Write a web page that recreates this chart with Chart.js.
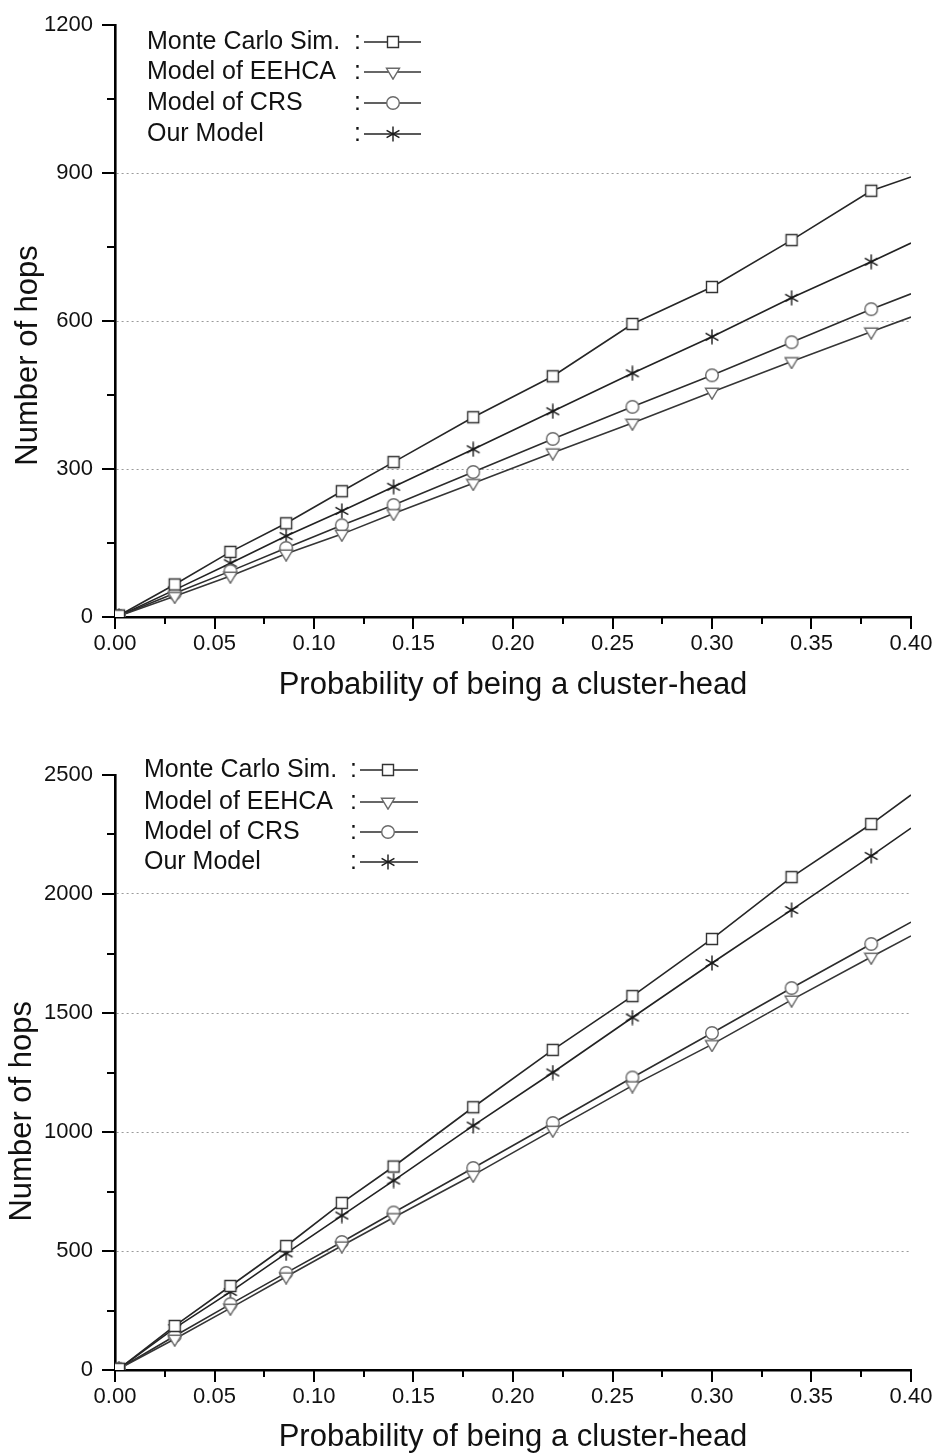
<!DOCTYPE html>
<html><head><meta charset="utf-8">
<script src="https://cdn.jsdelivr.net/npm/chart.js@4/dist/chart.umd.min.js"></script>
<style>
html,body{margin:0;padding:0;background:#fff;}
canvas{display:block;position:absolute;left:0;}
#c1{top:0;}
#c2{top:728px;}
</style></head><body>
<canvas id="c1" width="937" height="728"></canvas>
<canvas id="c2" width="937" height="728"></canvas>
<script>
// ---------- data ----------
const probabilities = [0.002, 0.03, 0.058, 0.086, 0.114, 0.14, 0.18, 0.22, 0.26, 0.30, 0.34, 0.38, 0.40];
const seriesNames = ['Monte Carlo Sim.', 'Model of EEHCA', 'Model of CRS', 'Our Model'];

const hopsTopMonteCarlo = [3, 66, 132, 190, 255, 314, 405, 488, 594, 669, 764, 864, 892];
const hopsTopEEHCA      = [2, 42, 83, 128, 168, 210, 271, 333, 393, 456, 518, 578, 608];
const hopsTopCRS        = [2, 48, 93, 140, 186, 227, 294, 361, 426, 490, 557, 624, 655];
const hopsTopOurs       = [2, 55, 109, 164, 215, 264, 340, 417, 494, 568, 647, 720, 758];

const hopsBottomMonteCarlo = [5, 185, 353, 521, 702, 855, 1104, 1345, 1571, 1811, 2071, 2294, 2416];
const hopsBottomEEHCA      = [5, 130, 260, 392, 522, 641, 819, 1008, 1195, 1368, 1555, 1735, 1824];
const hopsBottomCRS        = [5, 143, 277, 408, 538, 662, 849, 1038, 1229, 1416, 1605, 1790, 1882];
const hopsBottomOurs       = [5, 176, 328, 490, 649, 796, 1027, 1250, 1481, 1710, 1933, 2160, 2277];

const xTickLabels = ['0.00','0.05','0.10','0.15','0.20','0.25','0.30','0.35','0.40'];
const yTickLabelsTop = ['0','300','600','900','1200'];
const yTickLabelsBottom = ['0','500','1000','1500','2000','2500'];

const xAxisTitle = 'Probability of being a cluster-head';
const yAxisTitle = 'Number of hops';

// ---------- marker images ----------
function makeMarker(kind, stroke) {
  const c = document.createElement('canvas');
  const s = 16;
  c.width = s; c.height = s;
  const g = c.getContext('2d');
  g.strokeStyle = stroke; g.fillStyle = '#fff'; g.lineWidth = 1.4;
  g.beginPath();
  if (kind === 'square') {
    g.rect(2.5, 2.5, 11, 11); g.fill(); g.stroke();
  } else if (kind === 'circle') {
    g.arc(8, 8, 6.3, 0, Math.PI * 2); g.fill(); g.stroke();
  } else if (kind === 'triangle') {
    g.moveTo(1.5, 4.3); g.lineTo(14.5, 4.3); g.lineTo(8, 15.2); g.closePath(); g.fill(); g.stroke();
  } else {
    const m = 8, r = 7.4;
    for (const a of [90, 30, -30]) {
      const rad = a * Math.PI / 180;
      g.moveTo(m - r * Math.cos(rad), m - r * Math.sin(rad));
      g.lineTo(m + r * Math.cos(rad), m + r * Math.sin(rad));
    }
    g.stroke();
  }
  return c;
}
const markerStyles = [
  makeMarker('square', '#333'),
  makeMarker('triangle', '#6a6a6a'),
  makeMarker('circle', '#6a6a6a'),
  makeMarker('star', '#1a1a1a')
];
const lineColors = ['#262626', '#353535', '#2c2c2c', '#222'];

// ---------- plugins ----------
const tickMarksPlugin = {
  id: 'tickMarks',
  afterDraw(chart) {
    const ctx = chart.ctx;
    ctx.save();
    ctx.strokeStyle = '#000';
    ctx.lineWidth = 2;
    const xs = chart.scales.x, ys = chart.scales.y;
    xs.ticks.forEach((t, i) => {
      const px = Math.round(xs.getPixelForTick(i));
      const len = t.label !== '' ? 12 : 7;
      ctx.beginPath(); ctx.moveTo(px, xs.top); ctx.lineTo(px, xs.top + len); ctx.stroke();
    });
    ys.ticks.forEach((t, i) => {
      const py = Math.round(ys.getPixelForTick(i));
      const len = t.label !== '' ? 13 : 8;
      ctx.beginPath(); ctx.moveTo(ys.right, py); ctx.lineTo(ys.right - len, py); ctx.stroke();
    });
    ctx.restore();
  }
};

const insideLegendPlugin = {
  id: 'insideLegend',
  afterDraw(chart, args, opts) {
    const ctx = chart.ctx;
    ctx.save();
    ctx.font = '25px "Liberation Sans", Arial, sans-serif';
    ctx.fillStyle = '#111';
    ctx.textBaseline = 'middle';
    ctx.textAlign = 'left';
    chart.data.datasets.forEach((ds, i) => {
      const y = opts.rows[i];
      ctx.fillText(ds.label, opts.textX, y);
      ctx.fillText(':', opts.colonX, y);
      ctx.strokeStyle = ds.borderColor;
      ctx.lineWidth = 1.7;
      ctx.beginPath(); ctx.moveTo(opts.lineX1, y); ctx.lineTo(opts.lineX2, y); ctx.stroke();
      const img = ds.pointStyle;
      ctx.drawImage(img, Math.round(opts.markX - img.width / 2), Math.round(y - img.height / 2));
    });
    ctx.restore();
  }
};

Chart.defaults.font.family = '"Liberation Sans", Arial, sans-serif';
Chart.defaults.color = '#111';

function buildChart(canvasId, series, yMax, yStep, yLabels, gridValues, layout, legendOpts, xTitlePadBottom, yTitlePadTop, yTitleText) {
  const datasets = series.map((vals, i) => ({
    label: seriesNames[i],
    data: probabilities.map((p, j) => ({x: p, y: vals[j]})),
    borderColor: lineColors[i],
    borderWidth: 1.6,
    pointStyle: markerStyles[i],
    pointRadius: probabilities.map((p, j) => j === probabilities.length - 1 ? 0 : 7),
    pointHoverRadius: 7,
    tension: 0,
    fill: false
  }));
  return new Chart(document.getElementById(canvasId), {
    type: 'line',
    data: {datasets},
    options: {
      responsive: false,
      animation: false,
      layout: {padding: layout},
      plugins: {
        legend: {display: false},
        tooltip: {enabled: false},
        insideLegend: legendOpts
      },
      scales: {
        x: {
          type: 'linear',
          min: 0, max: 0.40,
          ticks: {
            stepSize: 0.025,
            autoSkip: false,
            maxRotation: 0,
            padding: 2,
            font: {size: 22},
            color: '#111',
            callback: (v) => {
              const s = v.toFixed(2);
              return (Math.round(v / 0.025) % 2 === 0 && xTickLabels.includes(s)) ? s : '';
            }
          },
          grid: {drawOnChartArea: false, drawTicks: true, tickLength: 12, tickColor: 'rgba(0,0,0,0)'},
          border: {display: true, color: '#000', width: 2.6},
          title: {display: true, text: xAxisTitle, font: {size: 31}, color: '#111', padding: {top: 0, bottom: xTitlePadBottom}},
          afterFit: (s) => { s.height = layout.xHeight; }
        },
        y: {
          type: 'linear',
          min: 0, max: yMax,
          ticks: {
            stepSize: yStep,
            autoSkip: false,
            padding: 9,
            font: {size: 22},
            color: '#111',
            callback: (v) => yLabels.includes(String(v)) ? String(v) : ''
          },
          grid: {
            drawTicks: true, tickLength: 13, tickColor: 'rgba(0,0,0,0)',
            color: (c) => (c.tick && gridValues.includes(c.tick.value)) ? '#9a9a9a' : 'rgba(0,0,0,0)',
            lineWidth: 1
          },
          border: {display: true, color: '#000', width: 2.6, dash: [2, 3]},
          title: {display: true, text: yTitleText, font: {size: 31}, color: '#111', padding: {top: yTitlePadTop, bottom: 0}},
          afterFit: (s) => { s.width = 115; }
        }
      }
    },
    plugins: [tickMarksPlugin, insideLegendPlugin]
  });
}

buildChart('c1',
  [hopsTopMonteCarlo, hopsTopEEHCA, hopsTopCRS, hopsTopOurs],
  1200, 150, yTickLabelsTop, [300, 600, 900],
  {top: 25, right: 26, left: 0, bottom: 0, xHeight: 111},
  {textX: 147, colonX: 354, lineX1: 364, lineX2: 421, markX: 393, rows: [42, 72, 103, 134]},
  24, 10, yAxisTitle + '        ');

buildChart('c2',
  [hopsBottomMonteCarlo, hopsBottomEEHCA, hopsBottomCRS, hopsBottomOurs],
  2500, 250, yTickLabelsBottom, [500, 1000, 1500, 2000],
  {top: 47, right: 26, left: 0, bottom: 0, xHeight: 86},
  {textX: 144, colonX: 350, lineX1: 360, lineX2: 418, markX: 388, rows: [42, 74, 104, 134]},
  0, 4, yAxisTitle + '         ');
</script>
</body></html>
